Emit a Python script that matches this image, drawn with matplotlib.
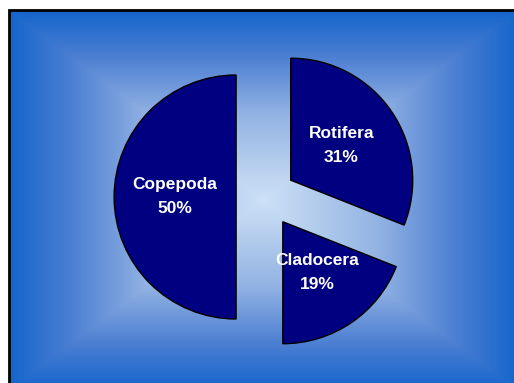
import numpy as np
import matplotlib.pyplot as plt
from matplotlib.colors import LinearSegmentedColormap
from matplotlib.patches import Rectangle

# zooplankton composition
groups = ['Rotifera', 'Cladocera', 'Copepoda']
shares = [31, 19, 50]

W, H, DPI = 514, 383, 100
R = 122.0            # pie radius in pixels
CX, CY = 266, 197    # pie centre, pixels from top-left

def px(x):
    return (x - CX) / R

def py(y):
    return (CY - y) / R

fig = plt.figure(figsize=(W / DPI, H / DPI), dpi=DPI, facecolor='white')
ax = fig.add_axes([0, 0, 1, 1])
ax.axis('off')

# rectangular "from centre" gradient fill of the plot area
x0, x1, y0, y1 = 9, 517, 10, 390
nx, ny = 400, 300
gx = np.linspace(-1, 1, nx)
gy = np.linspace(-1, 1, ny)
GX, GY = np.meshgrid(gx, gy)
t = np.maximum(np.abs(GX), np.abs(GY))
bg = LinearSegmentedColormap.from_list(
    'bg', [(0.0, '#cde1f6'), (0.45, '#93b3e3'), (0.75, '#4e80d3'), (1.0, '#1565cc')])
ax.imshow(t, cmap=bg, vmin=0, vmax=1, extent=(px(x0), px(x1), py(y1), py(y0)),
          aspect='auto', interpolation='bilinear', zorder=0)
ax.add_patch(Rectangle((px(x0), py(y1)), px(x1) - px(x0), py(y0) - py(y1),
                       fill=False, edgecolor='black', linewidth=2, zorder=1))

names = iter(groups)
wedges, texts, autotexts = ax.pie(
    shares, startangle=90, counterclock=False, radius=1,
    explode=[0.245] * len(shares), colors=['#000080'] * len(shares),
    wedgeprops=dict(edgecolor='black', linewidth=1),
    autopct=lambda p: f'{next(names)}\n{p:.0f}%', pctdistance=0.5,
    textprops=dict(color='white', fontsize=12.5, fontweight='bold',
                   family='Liberation Sans', linespacing=1.75))

ax.set_aspect('auto')
ax.set_xlim(px(0), px(W))
ax.set_ylim(py(H), py(0))

fig.savefig('out.png', dpi=DPI, facecolor='white')
